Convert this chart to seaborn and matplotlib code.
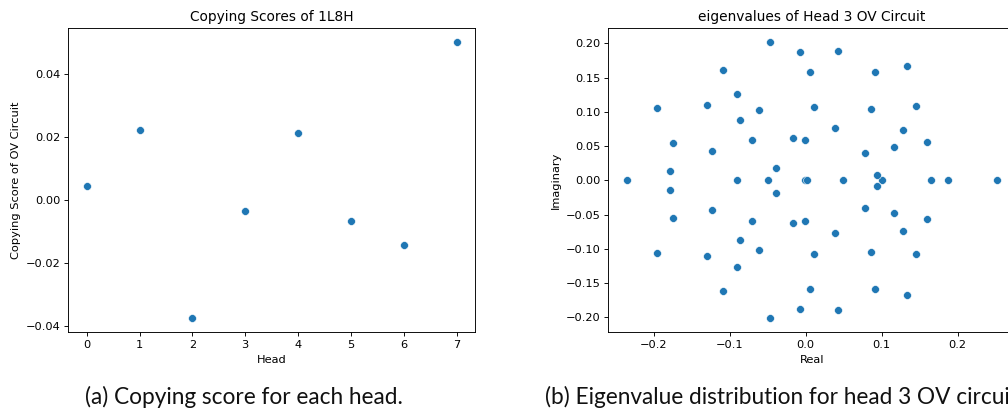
import numpy as np
import pandas as pd
import matplotlib
matplotlib.use("Agg")
import matplotlib.pyplot as plt
import seaborn as sns

# --- Copying scores of the OV circuit, one per head of the 1-layer, 8-head model
heads = [0, 1, 2, 3, 4, 5, 6, 7]
copying_scores = [0.0044, 0.0223, -0.0376, -0.0034, 0.0211, -0.0066, -0.0144, 0.0500]

# --- Eigenvalues of the head 3 OV circuit
# purely real eigenvalues
real_eigs = [-0.2358, -0.0909, -0.0501, -0.0005, 0.0012, 0.0487, 0.1001, 0.1647, 0.1870, 0.2520]
# complex eigenvalues with positive imaginary part (each comes with its conjugate)
complex_re = [-0.0474, -0.0075, 0.0422, 0.1330, -0.1089, 0.0053, 0.0909, -0.0909,
              -0.1300, -0.1958, -0.0615, 0.0105, 0.0865, 0.1449, -0.0865, 0.0391,
              0.1278, -0.0703, -0.0171, -0.0013, -0.1752, -0.1234, 0.1159, 0.1598,
              0.0777, -0.0391, -0.1791, 0.0940]
complex_im = [0.2017, 0.1876, 0.1890, 0.1671, 0.1613, 0.1588, 0.1588, 0.1262,
              0.1106, 0.1057, 0.1023, 0.1072, 0.1048, 0.1082, 0.0877, 0.0770,
              0.0736, 0.0590, 0.0624, 0.0590, 0.0551, 0.0434, 0.0482, 0.0565,
              0.0400, 0.0180, 0.0141, 0.0083]

captions = ["(a) Copying score for each head.",
            "(b) Eigenvalue distribution for head 3 OV circuit."]

scores_df = pd.DataFrame({"Head": heads, "Score": copying_scores})
eig_df = pd.DataFrame({
    "Real": list(real_eigs) + list(complex_re) + list(complex_re),
    "Imaginary": [0.0] * len(real_eigs) + list(complex_im) + [-v for v in complex_im],
})

k = 0.822  # panels were drawn at a reduced scale
plt.rcParams.update({
    "font.family": "DejaVu Sans",
    "font.size": 10 * k,
    "axes.titlesize": 12 * k,
    "axes.linewidth": 0.8 * k,
    "axes.labelpad": 4 * k,
    "axes.titlepad": 6 * k,
    "xtick.major.size": 3.5 * k,
    "ytick.major.size": 3.5 * k,
    "xtick.major.width": 0.8 * k,
    "ytick.major.width": 0.8 * k,
    "xtick.major.pad": 3.5 * k,
    "ytick.major.pad": 3.5 * k,
})

W, H = 1008, 411
fig = plt.figure(figsize=(W / 100, H / 100), dpi=100)

ax1 = fig.add_axes([68.3 / W, (H - 332.3) / H, 406.7 / W, 304 / H])
ax2 = fig.add_axes([608.3 / W, (H - 332.3) / H, 407.2 / W, 304 / H])

dot = dict(s=32, color="#1f77b4", edgecolor="white", linewidth=0.4)

sns.scatterplot(data=scores_df, x="Head", y="Score", ax=ax1, **dot)
ax1.set_title("Copying Scores of 1L8H")
ax1.set_xlabel("Head")
ax1.set_ylabel("Copying Score of OV Circuit")

sns.scatterplot(data=eig_df, x="Real", y="Imaginary", ax=ax2, **dot)
ax2.set_title("eigenvalues of Head 3 OV Circuit")
ax2.set_xlabel("Real")
ax2.set_ylabel("Imaginary")

cap_font = dict(family="Lato", fontsize=16.3, color="#111111", va="baseline", ha="left")
fig.text(85 / W, (H - 404) / H, captions[0], **cap_font)
fig.text(545 / W, (H - 404) / H, captions[1], **cap_font)

fig.savefig("out.png", dpi=100)
